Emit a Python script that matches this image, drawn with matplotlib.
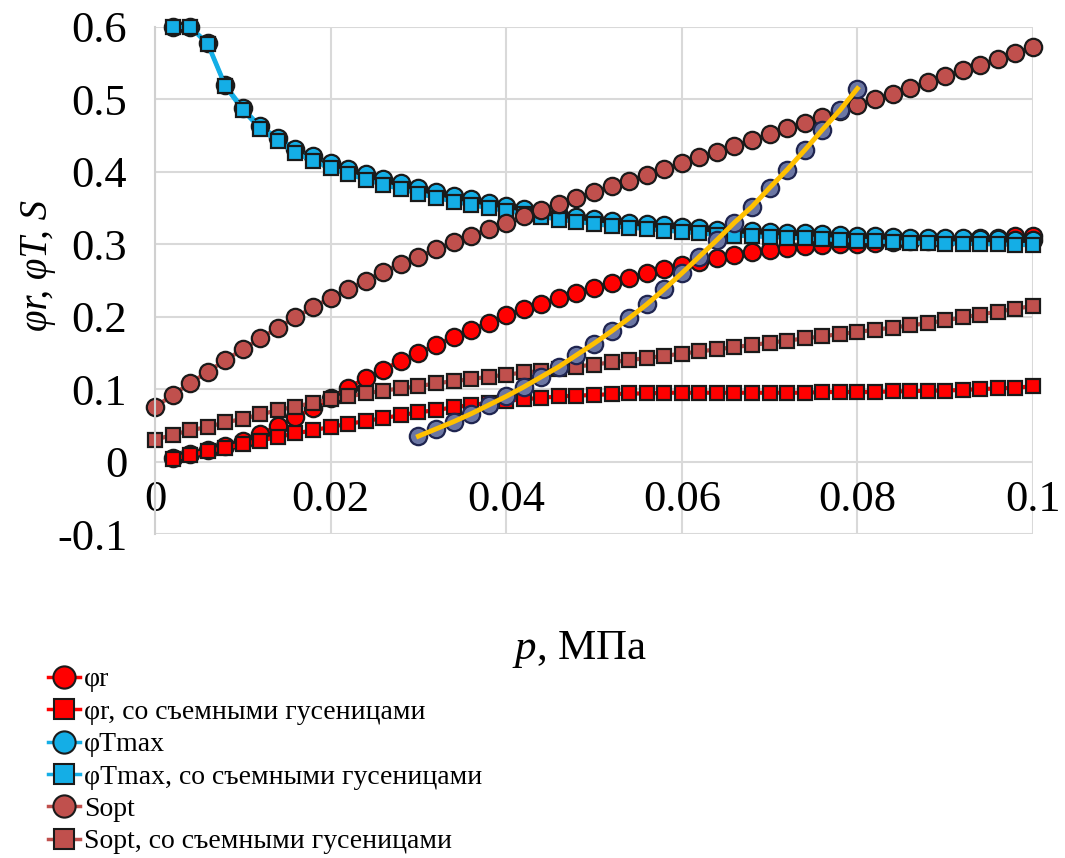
import numpy as np
import matplotlib
matplotlib.use("Agg")
import matplotlib.pyplot as plt
from matplotlib.lines import Line2D

plt.rcParams['font.family'] = ['Liberation Serif', 'DejaVu Serif']
plt.rcParams['mathtext.fontset'] = 'custom'
plt.rcParams['mathtext.it'] = 'Liberation Serif:italic'
plt.rcParams['mathtext.rm'] = 'Liberation Serif'

# давление, МПа
p_full = [round(0.002 * i, 3) for i in range(51)]      # 0 ... 0.1
p_main = p_full[1:]                                    # 0.002 ... 0.1
p_yellow = [round(0.03 + 0.002 * i, 3) for i in range(26)]  # 0.03 ... 0.08

phi_r = [0.005, 0.010, 0.016, 0.022, 0.029, 0.038, 0.049, 0.061, 0.074, 0.088,
         0.102, 0.115, 0.127, 0.139, 0.150, 0.161, 0.172, 0.182, 0.192, 0.202,
         0.210, 0.218, 0.226, 0.233, 0.240, 0.247, 0.254, 0.260, 0.266, 0.271,
         0.276, 0.281, 0.285, 0.289, 0.292, 0.295, 0.297, 0.299, 0.300, 0.301,
         0.302, 0.303, 0.304, 0.305, 0.306, 0.307, 0.308, 0.309, 0.311, 0.312]

phi_r_sq = [0.004, 0.009, 0.014, 0.019, 0.024, 0.029, 0.034, 0.039, 0.043, 0.048,
            0.052, 0.056, 0.060, 0.064, 0.068, 0.071, 0.075, 0.078, 0.081, 0.084,
            0.086, 0.088, 0.090, 0.091, 0.092, 0.093, 0.094, 0.094, 0.095, 0.095,
            0.095, 0.095, 0.095, 0.095, 0.095, 0.095, 0.095, 0.096, 0.096, 0.096,
            0.096, 0.097, 0.097, 0.098, 0.098, 0.099, 0.100, 0.101, 0.102, 0.104]

phi_t = [0.600, 0.600, 0.578, 0.520, 0.488, 0.463, 0.447, 0.432, 0.422, 0.412,
         0.404, 0.397, 0.390, 0.384, 0.378, 0.372, 0.367, 0.362, 0.357, 0.353,
         0.349, 0.345, 0.341, 0.338, 0.335, 0.332, 0.330, 0.328, 0.326, 0.324,
         0.322, 0.320, 0.319, 0.318, 0.317, 0.316, 0.315, 0.314, 0.313, 0.312,
         0.311, 0.310, 0.309, 0.309, 0.308, 0.308, 0.307, 0.307, 0.306, 0.306]

phi_t_sq = [0.600, 0.600, 0.576, 0.518, 0.485, 0.459, 0.442, 0.426, 0.415, 0.405,
            0.397, 0.389, 0.382, 0.376, 0.370, 0.364, 0.359, 0.354, 0.350, 0.346,
            0.342, 0.338, 0.334, 0.331, 0.328, 0.325, 0.323, 0.321, 0.319, 0.317,
            0.315, 0.313, 0.312, 0.311, 0.310, 0.309, 0.308, 0.307, 0.306, 0.305,
            0.304, 0.303, 0.302, 0.302, 0.301, 0.301, 0.300, 0.300, 0.299, 0.299]

s_opt = [0.075, 0.092, 0.108, 0.124, 0.140, 0.155, 0.170, 0.185, 0.199, 0.213,
         0.226, 0.238, 0.250, 0.262, 0.273, 0.283, 0.293, 0.303, 0.312, 0.321,
         0.330, 0.339, 0.347, 0.356, 0.364, 0.372, 0.380, 0.388, 0.396, 0.404,
         0.412, 0.420, 0.428, 0.436, 0.444, 0.452, 0.460, 0.468, 0.476, 0.484,
         0.492, 0.500, 0.508, 0.516, 0.524, 0.532, 0.540, 0.548, 0.556, 0.564,
         0.572]

s_opt_sq = [0.030, 0.037, 0.043, 0.048, 0.054, 0.059, 0.065, 0.071, 0.076, 0.081,
            0.086, 0.090, 0.094, 0.098, 0.101, 0.104, 0.108, 0.111, 0.114, 0.117,
            0.120, 0.123, 0.125, 0.128, 0.131, 0.134, 0.137, 0.140, 0.143, 0.146,
            0.149, 0.152, 0.155, 0.158, 0.161, 0.164, 0.167, 0.170, 0.173, 0.176,
            0.179, 0.182, 0.185, 0.188, 0.191, 0.195, 0.199, 0.203, 0.207, 0.211,
            0.215]

yellow = [0.035, 0.045, 0.055, 0.066, 0.078, 0.090, 0.103, 0.117, 0.131, 0.147,
          0.163, 0.180, 0.198, 0.217, 0.238, 0.260, 0.283, 0.306, 0.330, 0.352,
          0.378, 0.403, 0.430, 0.458, 0.485, 0.515]

labels = ["φr", "φr, со съемными гусеницами", "φTmax",
          "φTmax, со съемными гусеницами", "Sopt", "Sopt, со съемными гусеницами"]

RED = "#ff0000"
BLUE = "#14aee6"
BROWN = "#c0504d"
EDGE = "#1a1a1a"

fig = plt.figure(figsize=(10.65, 8.58), dpi=100)
ax = fig.add_axes([155 / 1065, 1 - 534 / 858, (1033 - 155) / 1065, (534 - 27) / 858])

series = [
    (p_main, phi_r, "o", RED),
    (p_main, phi_r_sq, "s", RED),
    (p_main, phi_t, "o", BLUE),
    (p_main, phi_t_sq, "s", BLUE),
    (p_full, s_opt, "o", BROWN),
    (p_full, s_opt_sq, "s", BROWN),
]

handles = []
for (x, y, m, c), lab in zip(series, labels):
    ms = 12.5 if m == "o" else 10.5
    ax.plot(x, y, color=c, lw=3, marker=m, ms=ms, mfc=c, mec=EDGE,
            mew=1.6, clip_on=False, label=lab)
    handles.append(Line2D([], [], color=c, lw=2.5, marker=m, ms=16 if m == "o" else 15,
                          mfc=c, mec=EDGE, mew=1.5))

# ряд без подписи в легенде
ax.plot(p_yellow, yellow, color="#6b76a3", lw=0, marker="o", ms=12.5,
        mec="#1f2550", mew=1.6, clip_on=False)
ax.plot(p_yellow, yellow, color="#ffc000", lw=3.5, clip_on=False)

ax.set_xlim(0, 0.1)
ax.set_ylim(-0.1, 0.6)
ax.set_xticks([0, 0.02, 0.04, 0.06, 0.08, 0.1])
ax.set_xticklabels(["0", "0.02", "0.04", "0.06", "0.08", "0.1"])
ax.set_yticks([-0.1, 0, 0.1, 0.2, 0.3, 0.4, 0.5, 0.6])
ax.set_yticklabels(["-0.1", "0", "0.1", "0.2", "0.3", "0.4", "0.5", "0.6"])
ax.grid(True, color="#d9d9d9", lw=1.5)
ax.set_axisbelow(True)

for s in ["top", "right"]:
    ax.spines[s].set_visible(False)
ax.spines["bottom"].set_position(("data", 0))
ax.spines["bottom"].set_visible(False)
ax.spines["left"].set_color("#d0d0d0")
ax.spines["left"].set_linewidth(1.5)
ax.tick_params(axis="both", length=0, labelsize=32)
ax.tick_params(axis="x", pad=13)
ax.tick_params(axis="y", pad=20)

fig.text(38 / 1065, 1 - 265 / 858, "φr, φT, S", rotation=90, fontsize=28,
         style="italic", ha="center", va="center")
fig.text(580 / 1065, 1 - 650 / 858, "$p$, МПа", fontsize=31,
         ha="center", va="center")

fig.legend(handles, labels, loc="upper left", bbox_to_anchor=(48 / 1065, 1 - 667 / 858),
           frameon=False, fontsize=20, handlelength=1.15, handletextpad=0.15,
           labelspacing=0.25, borderpad=0, borderaxespad=0)

fig.savefig("out.png", dpi=100)
